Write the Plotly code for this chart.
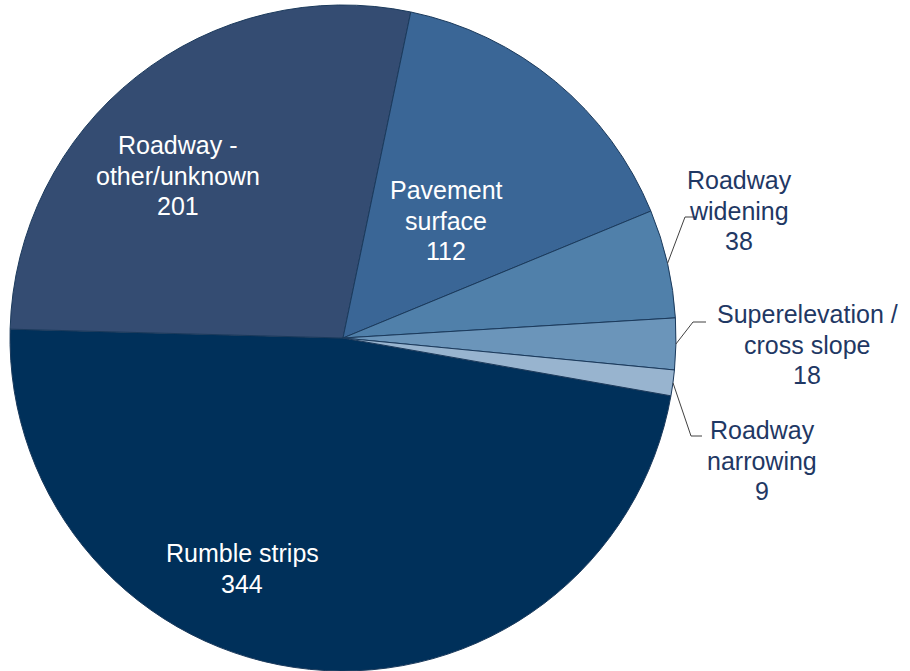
import math
import plotly.graph_objects as go

categories = ["Rumble strips", "Roadway -<br>other/unknown", "Pavement<br>surface",
              "Roadway<br>widening", "Superelevation /<br>cross slope", "Roadway<br>narrowing"]
values = [344, 201, 112, 38, 18, 9]
colors = ["#00305A", "#344C72", "#3A6696", "#5080AA", "#6B95BA", "#98B4CF"]

W, H = 910, 671
cx, cy, R = 343, 338, 333
rotation = 100

fig = go.Figure()
fig.add_trace(go.Pie(
    labels=categories, values=values, sort=False, direction="clockwise",
    rotation=rotation, marker=dict(colors=colors, line=dict(color="#1B3A5C", width=1)),
    textinfo="none", hoverinfo="label+value", showlegend=False,
    domain=dict(x=[(cx - R) / W, (cx + R) / W], y=[max(0, 1 - (cy + R) / H), min(1, 1 - (cy - R) / H)]),
))

# label placement (pixel coords): center x, first-line y
inside_pos = {0: (242, 553), 1: (178, 145), 2: (446, 190)}
outside_pos = {3: (739, 180, (685, 217), (697, 217)),
               4: (807, 314, (693, 322), (706, 322)),
               5: (762, 430, (691, 436), (702, 436))}
LINE = 30.5
FONT = "Liberation Sans, Arial"

total = sum(values)
cum = 0
for i, (lab, v) in enumerate(zip(categories, values)):
    mid = cum + v / 2
    cum += v
    ang = math.radians(rotation + 360 * mid / total)
    ex, ey = cx + R * math.sin(ang), cy - R * math.cos(ang)
    lines = lab.split("<br>") + [str(v)]
    if i in inside_pos:
        x, y0 = inside_pos[i]
        col = "white"
    else:
        x, y0, elbow, end = outside_pos[i]
        col = "#1F3864"
        fig.add_shape(type="path", xref="x", yref="y",
                      path=f"M{ex:.1f},{ey:.1f} L{elbow[0]},{elbow[1]} L{end[0]},{end[1]}",
                      line=dict(color="#404040", width=1))
    for k, t in enumerate(lines):
        fig.add_annotation(x=x, y=y0 + k * LINE, text=t, showarrow=False, xref="x", yref="y",
                           xanchor="center", yanchor="middle",
                           font=dict(color=col, size=25, family=FONT))

fig.update_layout(
    width=W, height=H, margin=dict(l=0, r=0, t=0, b=0),
    paper_bgcolor="white", plot_bgcolor="rgba(0,0,0,0)",
    xaxis=dict(range=[0, W], visible=False, fixedrange=True),
    yaxis=dict(range=[H, 0], visible=False, fixedrange=True),
)

fig.write_html("out.html", config={"displayModeBar": False},
               post_script="document.body.style.margin='0';document.body.style.overflow='hidden';")
